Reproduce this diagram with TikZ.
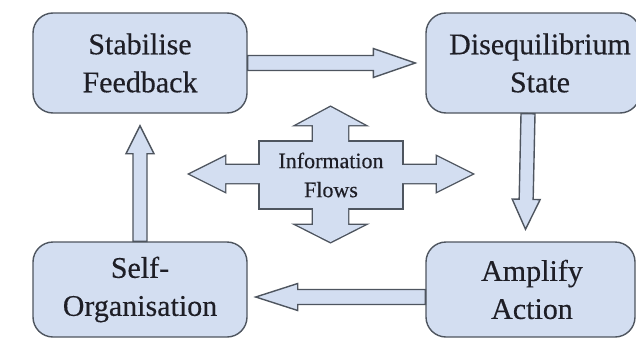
\documentclass[tikz,border=0pt]{standalone}
\usepackage{fontspec}
\setmainfont{Liberation Serif}
\newfontfamily\labelfont{Liberation Serif}[FakeBold=0.35]
\usetikzlibrary{calc}

\definecolor{boxfill}{RGB}{211,222,241}
\definecolor{boxline}{RGB}{78,85,95}
\definecolor{inkcol}{RGB}{30,30,38}

% Block arrow from #2 to the tip #3: shaft half width #4,
% head half width #5, head length #6; #1 are the path options.
\newcommand\blockarrow[6]{%
  \path (#2) coordinate (ba-s) (#3) coordinate (ba-t);
  \path ($(ba-t)!#6!(ba-s)$) coordinate (ba-c);
  \path[#1] ($(ba-s)!#4!90:(ba-t)$) -- ($(ba-c)!#4!-90:(ba-s)$)
    -- ($(ba-c)!#5!-90:(ba-s)$) -- (ba-t) -- ($(ba-c)!#5!90:(ba-s)$)
    -- ($(ba-c)!#4!90:(ba-s)$) -- ($(ba-s)!#4!-90:(ba-t)$) -- cycle;}

\begin{document}
\begin{tikzpicture}[x=1pt,y=-1pt,
  stagebox/.style={draw=boxline, fill=boxfill, line width=1.4pt,
    rounded corners=20pt, align=center, text=inkcol,
    font=\labelfont\fontsize{30}{38}\selectfont, inner sep=0pt},
  arrowline/.style={draw=boxline, fill=boxfill, line width=1.4pt, line join=miter},
  crossline/.style={draw=boxline, line width=2.8pt, line join=miter},
  crossfill/.style={fill=boxfill}]
\useasboundingbox (0,0) rectangle (636,340);

% the four stages
\node[stagebox, minimum width=214pt, minimum height=100pt] (sf) at (140,63)
  {Stabilise\\Feedback};
\node[stagebox, minimum width=214pt, minimum height=100pt] (de) at (533,63)
  {\hspace*{14pt}Disequilibrium\\\hspace*{14pt}State};
\node[stagebox, minimum width=209pt, minimum height=95pt] (aa) at (530.5,289.5)
  {\hspace*{3pt}Amplify\\\hspace*{3pt}Action};
\node[stagebox, minimum width=214pt, minimum height=95pt] (so) at (140,289.5)
  {Self-\\Organisation};

% tips of the cycle arrows
\coordinate (t1) at ($(de.west |- sf.east)+(-10,0)$);
\coordinate (t2) at ($(aa.north)+(-5,-12)$);
\coordinate (t3) at ($(so.east |- 0,297)+(8,0)$);
\coordinate (t4) at ($(sf.south)+(0,12)$);

\blockarrow{arrowline}{sf.east}{t1}{7.5pt}{14.5pt}{42pt}
\blockarrow{arrowline}{$(de.south)+(-5,0)$}{t2}{7pt}{14pt}{30pt}
\blockarrow{arrowline}{aa.west |- t3}{t3}{7.5pt}{13.5pt}{42pt}
\blockarrow{arrowline}{so.north}{t4}{7pt}{14pt}{28pt}

% central information flows cross
\node[minimum width=142pt, minimum height=66pt, inner sep=0pt] (info) at (331,175) {};
\coordinate (iu) at (330.5,107);
\coordinate (id) at (330.5,242);
\coordinate (il) at (190,174);
\coordinate (ir) at (472,174);

% outline of the union first, then the fill on top of it
\path[crossline] (info.north west) rectangle (info.south east);
\blockarrow{crossline}{330.5,150}{iu}{17.5pt}{33.5pt}{18pt}
\blockarrow{crossline}{330.5,200}{id}{17.5pt}{33.5pt}{17pt}
\blockarrow{crossline}{270,174}{il}{9pt}{17.5pt}{35pt}
\blockarrow{crossline}{392,174}{ir}{9pt}{17.5pt}{35pt}
\path[crossfill] (info.north west) rectangle (info.south east);
\blockarrow{crossfill}{330.5,150}{iu}{17.5pt}{33.5pt}{18pt}
\blockarrow{crossfill}{330.5,200}{id}{17.5pt}{33.5pt}{17pt}
\blockarrow{crossfill}{270,174}{il}{9pt}{17.5pt}{35pt}
\blockarrow{crossfill}{392,174}{ir}{9pt}{17.5pt}{35pt}

\node[align=center, text=inkcol, font=\labelfont\fontsize{22}{29}\selectfont, inner sep=0pt]
  (infotext) at (info.center) {Information\\Flows};
\end{tikzpicture}
\end{document}
